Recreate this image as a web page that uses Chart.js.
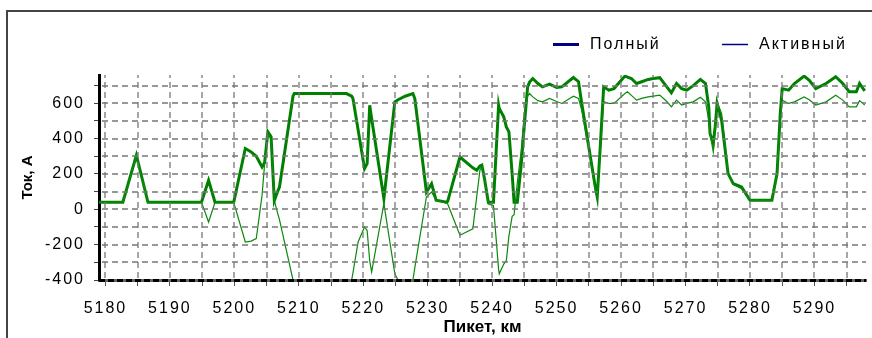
<!DOCTYPE html>
<html>
<head>
<meta charset="utf-8">
<script src="https://cdn.jsdelivr.net/npm/chart.js@4"></script>
<style>
body{margin:0;background:#fff;}
#wrap{width:872px;height:338px;}
</style>
</head>
<body>
<div id="wrap"><canvas id="myChart" width="872" height="338"></canvas></div>
<script>
// picket, km
var kmPoints = [5179.0,5182.7,5184.8,5186.6,5194.9,5196.0,5197.0,5199.9,5201.7,5202.6,5203.4,5204.3,5204.7,5205.2,5205.7,5206.2,5206.7,5207.0,
  5209.1,5209.3,5213.0,5217.4,5218.2,5218.4,5219.2,5220.2,5220.6,5221.0,5221.3,5223.2,5224.9,5225.4,5226.5,5227.7,5228.0,5229.8,
  5230.6,5231.3,5232.9,5233.1,5235.0,5237.0,5237.6,5238.1,5238.4,5238.8,5239.4,5240.2,5241.0,5241.1,5241.8,5242.2,5242.6,5243.1,
  5243.4,5243.9,5244.5,5245.0,5245.5,5245.8,5246.3,5247.1,5247.8,5248.9,5250.0,5250.8,5252.6,5253.4,5253.9,5254.9,5256.0,5256.3,
  5256.8,5257.3,5258.1,5258.9,5260.6,5261.0,5261.6,5262.4,5263.2,5264.2,5265.0,5266.0,5267.1,5267.8,5268.6,5269.4,5270.2,5271.2,
  5272.3,5273.1,5273.6,5273.8,5274.3,5274.6,5274.9,5275.6,5276.6,5277.4,5278.7,5280.0,5283.4,5284.2,5284.7,5285.0,5286.0,5286.9,
  5288.4,5289.2,5290.2,5291.8,5293.3,5294.4,5295.4,5296.5,5297.0,5297.8];
// full current, A
var fullCurrent = [40,40,306,40,40,164,40,40,344,325,300,240,265,438,410,50,100,126,
  640,655,655,655,640,627,450,230,258,589,514,60,608,620,640,655,627,98,
  145,51,40,45,296,235,221,245,250,175,40,40,589,570,523,466,438,200,
  40,40,250,480,693,720,740,712,693,708,690,693,746,722,599,372,126,70,
  372,693,674,683,754,748,740,712,722,735,740,745,693,659,712,683,674,700,
  735,712,580,429,372,466,599,504,202,145,126,51,51,202,542,683,674,712,
  754,730,683,712,750,712,665,665,712,670];
// active current, A
var activeCurrent = [40,40,306,40,40,-72,40,40,-185,-180,-166,80,258,420,400,50,-20,-58,
  -400,-430,-560,-480,-400,-360,-185,-100,-120,-290,-355,32,-365,-400,-410,-400,-330,70,
  98,51,35,30,-147,-110,70,221,240,175,30,20,-340,-365,-310,-290,-150,-40,
  -30,150,330,542,640,655,636,615,608,627,610,599,640,627,560,360,110,70,
  340,610,599,599,655,665,645,618,628,636,640,646,610,580,618,590,599,608,
  634,608,504,430,325,450,608,542,202,140,116,51,51,202,500,618,599,608,
  636,620,590,608,646,618,580,580,615,590];
var seriesNames = ['Полный', 'Активный'];
var xTickLabels = [5180,5190,5200,5210,5220,5230,5240,5250,5260,5270,5280,5290];
var yTickLabels = [-400,-200,0,200,400,600];

var fullData = kmPoints.map(function (k, i) { return {x: k, y: fullCurrent[i]}; });
var activeData = kmPoints.map(function (k, i) { return {x: k, y: activeCurrent[i]}; });

// grid every half label step
function halfSteps(labels) {
  var out = [];
  var half = (labels[1] - labels[0]) / 2;
  labels.forEach(function (v) { out.push({value: v}); out.push({value: v + half}); });
  return out;
}

// frame, dashed grid, dashed bottom axis, legend
var decor = {
  id: 'decor',
  beforeDraw: function (chart) {
    var c = chart.ctx;
    c.letterSpacing = '0px';
    c.save();
    c.strokeStyle = '#444'; c.lineWidth = 2;
    c.beginPath(); c.moveTo(7, 338); c.lineTo(7, 11); c.lineTo(872, 11); c.stroke();
    c.restore();
  },
  afterDatasetsDraw: function (chart) {
    // tick labels come after this, a bit spaced out
    chart.ctx.letterSpacing = '2px';
  },
  afterDraw: function (chart) {
    var c = chart.ctx, a = chart.chartArea;
    var sx = chart.scales.x, sy = chart.scales.y;
    // dashed grid from the scales' ticks
    c.save();
    c.strokeStyle = '#777';
    c.lineWidth = 1.3;
    c.beginPath();
    sx.ticks.forEach(function (t) {
      var px = Math.round(sx.getPixelForValue(t.value));
      for (var y = a.bottom - 2; y > a.top; y -= 10) {
        c.moveTo(px, y); c.lineTo(px, Math.max(a.top, y - 6));
      }
    });
    sy.ticks.forEach(function (t) {
      var py = Math.round(sy.getPixelForValue(t.value));
      if (py >= a.bottom - 2) return;
      for (var x = a.left + 3; x < a.right; x += 10) {
        c.moveTo(x, py); c.lineTo(Math.min(a.right, x + 6), py);
      }
    });
    c.stroke();
    c.restore();
    // dashed bottom axis
    c.save();
    c.strokeStyle = '#000'; c.lineWidth = 3; c.setLineDash([6, 3]);
    c.beginPath(); c.moveTo(a.left, a.bottom + 0.5); c.lineTo(a.right, a.bottom + 0.5); c.stroke();
    c.restore();
    // legend
    c.save();
    c.font = '16px "Liberation Sans"';
    c.letterSpacing = '2px';
    c.fillStyle = '#000';
    c.textBaseline = 'middle';
    c.strokeStyle = '#000080';
    var items = [{x: 553, w: 3}, {x: 722, w: 1.5}];
    items.forEach(function (it, i) {
      c.lineWidth = it.w;
      c.beginPath(); c.moveTo(it.x, 44.5); c.lineTo(it.x + 26, 44.5); c.stroke();
      c.fillText(chart.data.datasets[i].label, it.x + 37, 45);
    });
    c.restore();
    c.letterSpacing = '0px';
  }
};

var tickFont = {family: '"Liberation Sans"', size: 16};

const config = {
  type: 'line',
  data: {
    datasets: [{
      label: seriesNames[0],
      data: fullData,
      borderColor: '#008000',
      borderWidth: 3,
      order: 1
    }, {
      label: seriesNames[1],
      data: activeData,
      borderColor: '#0a8a0a',
      borderWidth: 1.2,
      order: 0
    }]
  },
  options: {
    responsive: false,
    animation: false,
    layout: {padding: {top: 75, right: 6, left: 0, bottom: 0}},
    elements: {point: {radius: 0}, line: {tension: 0}},
    plugins: {legend: {display: false}, tooltip: {enabled: false}},
    scales: {
      x: {
        type: 'linear',
        min: 5179,
        max: 5298,
        afterBuildTicks: function (s) { s.ticks = halfSteps(xTickLabels); },
        afterFit: function (s) { s.height = 58; },
        ticks: {
          z: 1, autoSkip: false, maxRotation: 0, color: '#000', font: tickFont, padding: 13,
          callback: function (v) { return xTickLabels.indexOf(v) >= 0 ? String(v) : ''; }
        },
        grid: {drawOnChartArea: false, color: '#999', tickLength: 6, tickColor: '#555'},
        border: {color: '#666', width: 3},
        title: {display: true, text: 'Пикет, км', color: '#000',
          font: {family: '"Liberation Sans"', size: 17, weight: 'bold'}, padding: {top: 0, bottom: 0}}
      },
      y: {
        min: -400,
        max: 760,
        afterBuildTicks: function (s) { s.ticks = halfSteps(yTickLabels); },
        afterFit: function (s) { s.width = 99; },
        ticks: {
          z: 1, autoSkip: false, color: '#000', font: tickFont, padding: 9,
          callback: function (v) { return yTickLabels.indexOf(v) >= 0 ? String(v) : ''; }
        },
        grid: {drawOnChartArea: false, color: '#999', tickLength: 5, tickColor: '#444'},
        border: {color: '#000', width: 3},
        title: {display: true, text: 'Ток, А', color: '#000',
          font: {family: '"Liberation Sans"', size: 15, weight: 'bold'}, padding: {top: 19, bottom: 0}}
      }
    }
  },
  plugins: [decor]
};

const myChart = new Chart(document.getElementById('myChart'), config);
</script>
</body>
</html>
